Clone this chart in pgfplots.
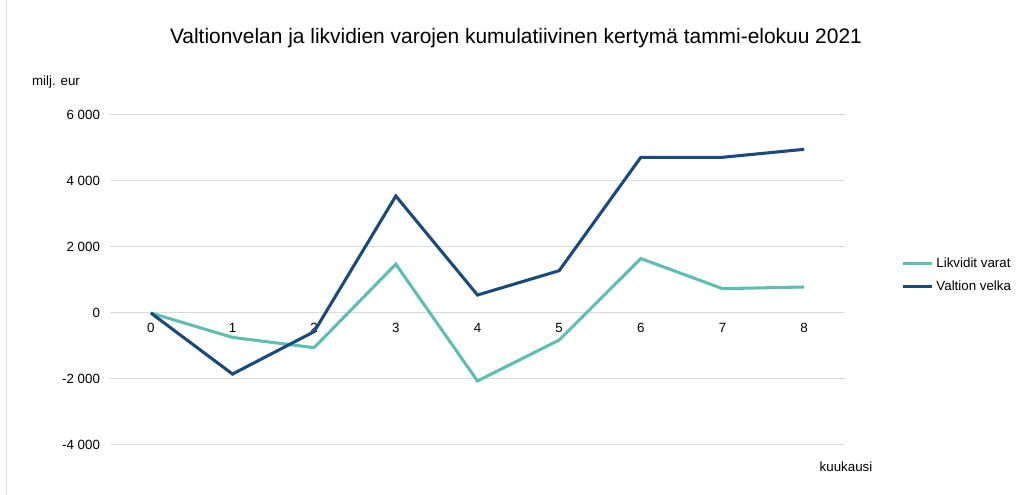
\documentclass[border=0pt]{standalone}
\usepackage{fontspec}
\setmainfont{Liberation Sans}
\usepackage{pgfplots}
\pgfplotsset{compat=1.18}
\definecolor{teal1}{RGB}{94,190,180}
\definecolor{navy1}{RGB}{24,74,126}
\definecolor{gridgray}{RGB}{217,217,217}
\begin{document}
\begin{tikzpicture}[x=1pt,y=1pt]
\path[use as bounding box] (0,0) rectangle (763.5,371.25);
\draw[gridgray, line width=0.75pt] (5,0) -- (5,371.25);
\begin{axis}[
  at={(82.5pt,37.5pt)}, anchor=south west,
  scale only axis, width=551.25pt, height=247.5pt,
  xmin=-0.5, xmax=8.5, ymin=-4000, ymax=6000,
  axis x line*=middle, axis y line*=left,
  axis line style={draw=none},
  major tick length=0pt,
  xtick={0,1,2,3,4,5,6,7,8},
  xticklabels={0,1,2,3,4,5,6,7,8},
  ytick={-4000,-2000,0,2000,4000,6000},
  yticklabels={-4 000,-2 000,0,2 000,4 000,6 000},
  ymajorgrids, grid style={gridgray, line width=0.75pt},
  ticklabel style={font=\fontsize{10}{12}\selectfont},
  xticklabel style={yshift=-4pt},
  yticklabel style={xshift=-4pt},
  legend style={at={(1.071,0.515)}, anchor=west, draw=none, fill=none,
    font=\fontsize{10}{12}\selectfont, row sep=5pt},
  legend cell align=left,
  legend image code/.code={\draw[#1, line width=2.25pt] (0pt,0pt) -- (22pt,0pt);},
  clip=false,
]
\addplot[teal1, line width=2.3pt] coordinates {
(0,0) (1,-740) (2,-1050) (3,1480) (4,-2060) (5,-820) (6,1650) (7,737) (8,788)};
\addlegendentry{Likvidit varat}
\addplot[navy1, line width=2.3pt] coordinates {
(0,0) (1,-1850) (2,-565) (3,3545) (4,545) (5,1282) (6,4718) (7,4718) (8,4960)};
\addlegendentry{Valtion velka}
\end{axis}
\node[font=\fontsize{15.7}{19}\selectfont] at (387,342.5) {Valtionvelan ja likvidien varojen kumulatiivinen kertymä tammi-elokuu 2021};
\node[font=\fontsize{10}{12}\selectfont] at (42,309.75) {milj. eur};
\node[font=\fontsize{10}{12}\selectfont] at (634.5,21) {kuukausi};
\end{tikzpicture}
\end{document}
